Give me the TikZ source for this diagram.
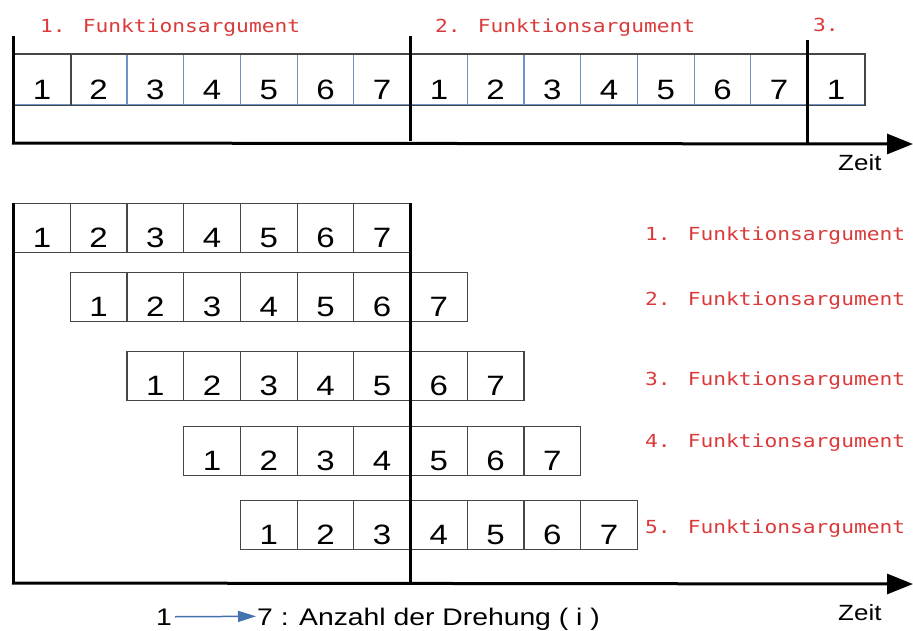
\documentclass[tikz,border=0pt]{standalone}
\usepackage{fontspec}
\usepackage{graphicx}
\setmainfont{Liberation Sans}
\newfontfamily\monof{DejaVu Sans Mono}
\usetikzlibrary{arrows.meta}
\definecolor{lblred}{RGB}{218,58,58}
\definecolor{sepblue}{RGB}{112,146,196}
\definecolor{cellgray}{RGB}{70,70,70}
\definecolor{legblue}{RGB}{68,114,176}
\newcommand{\hs}[1]{\scalebox{1.18}[1]{#1}}
\tikzset{
  cell/.style={rectangle, draw=cellgray, line width=1.2pt, minimum width=56.7pt,
    minimum height=49pt, inner sep=0pt, text height=39pt, text depth=0pt,
    anchor=north west, font=\fontsize{28}{28}\selectfont},
  topcell/.style={cell, draw=sepblue, minimum height=50pt, text height=40pt},
  fnlbl/.style={text=lblred, font=\monof\fontsize{18}{18}\selectfont, anchor=base west, inner sep=0pt},
  txt/.style={font=\fontsize{22}{22}\selectfont, anchor=base west, inner sep=0pt},
  bold/.style={line width=3pt, black},
  axis/.style={line width=3pt, black, -{Triangle[length=26pt,width=20pt]}},
  thin/.style={draw=cellgray, line width=1.2pt}
}
\begin{document}
\begin{tikzpicture}[x=1pt,y=-1pt]
\useasboundingbox (0,0) rectangle (913,630);
% ---------- top part ----------
\foreach \i in {1,...,7}{
  \node[topcell] (a\i) at ({13+(\i-1)*56.7},54) {\hs{\i}};
  \node[topcell] (b\i) at ({410+(\i-1)*56.7},54) {\hs{\i}};
}
\node[topcell] (c1) at (807,54) {\hs{1}};
\draw[thin] (a1.north west) -- (c1.north east) -- (c1.south east) -- (a1.south west);
\draw[thin] (a1.north east) -- (a1.south east);
\coordinate (tl0) at (13,36);   \coordinate (tl1) at (13,143);
\coordinate (tm0) at (410,36);  \coordinate (tm1) at (410,141);
\coordinate (tr0) at (807,40);  \coordinate (tr1) at (807,145);
\draw[bold] (tl0) -- (tl1);
\draw[bold] (tm0) -- (tm1);
\draw[bold] (tr0) -- (tr1);
\coordinate (ta0) at (12,143); \coordinate (ta1) at (913,144);
\draw[axis] (ta0) -- (ta1);
\node[txt] (zeit1) at (838,170) {\hs{Zeit}};
\node[fnlbl] (f1) at (40,32) {\hs{1. Funktionsargument}};
\node[fnlbl] (f2) at (435,32) {\hs{2. Funktionsargument}};
\node[fnlbl] (f3) at (813,31) {\hs{3.}};
% ---------- bottom part ----------
\foreach \r/\yt in {1/203,2/272,3/351,4/426,5/500}{
  \foreach \c in {1,...,7}{
    \node[cell] (r\r c\c) at ({13+(\r+\c-2)*56.7},\yt) {\hs{\c}};
  }
}
\coordinate (bl0) at (13,203);  \coordinate (bl1) at (13,583);
\coordinate (bm0) at (410,203); \coordinate (bm1) at (410,583);
\draw[bold] (bl0) -- (bl1);
\draw[bold] (bm0) -- (bm1);
\coordinate (ba0) at (12,583); \coordinate (ba1) at (913,584);
\draw[axis] (ba0) -- (ba1);
\node[txt] (zeit2) at (838,620) {\hs{Zeit}};
\node[fnlbl] (g1) at (645,240) {\hs{1. Funktionsargument}};
\node[fnlbl] (g2) at (645,305) {\hs{2. Funktionsargument}};
\node[fnlbl] (g3) at (645,385) {\hs{3. Funktionsargument}};
\node[fnlbl] (g4) at (645,447) {\hs{4. Funktionsargument}};
\node[fnlbl] (g5) at (645,533) {\hs{5. Funktionsargument}};
% ---------- legend ----------
\node[font=\fontsize{24}{24}\selectfont, anchor=base, inner sep=3pt, text depth=0pt] (l1) at (164,625) {\hs{1}};
\node[font=\fontsize{24}{24}\selectfont, anchor=base west, inner sep=1pt, text depth=0pt] (l7) at (256,625) {\hs{7 : Anzahl der Drehung ( i )}};
\draw[legblue, line width=1.5pt, -{Triangle[length=18pt,width=11pt]}] (l1.east) -- (l7.west);
\end{tikzpicture}
\end{document}
